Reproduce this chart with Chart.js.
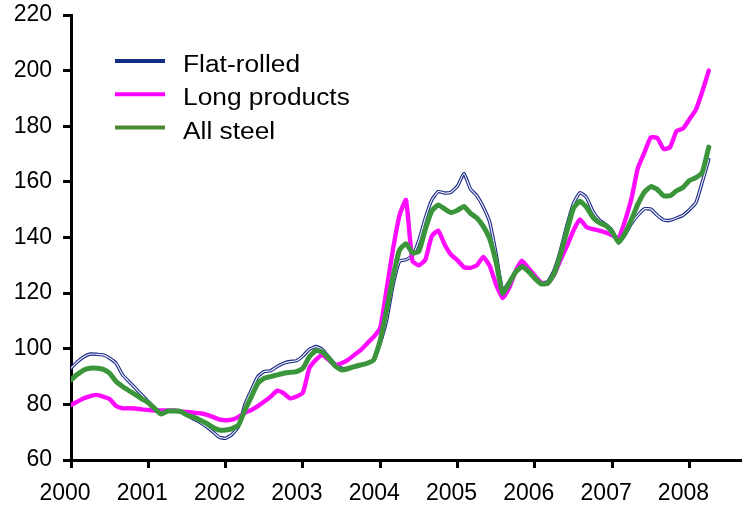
<!DOCTYPE html>
<html>
<head>
<meta charset="utf-8">
<script src="https://cdn.jsdelivr.net/npm/chart.js@4.4.1/dist/chart.umd.min.js"></script>
<style>
  html, body { margin: 0; padding: 0; background: #fff; }
  canvas { display: block; }
</style>
</head>
<body>
<canvas id="steelCanvas" width="742" height="508"></canvas>
<script>
/* ── Steel price indices, monthly Jan 2000 – Apr 2008 ── */

const yearTicks = [2000, 2001, 2002, 2003, 2004, 2005, 2006, 2007, 2008];
const valueTicks = [60, 80, 100, 120, 140, 160, 180, 200, 220];

const flatRolled = [
    93.0, 95.3, 97.1, 98.1, 98.0, 97.8, 96.6, 94.8, 90.6, 88.2, 85.8, 83.4,
    81.0, 78.6, 76.8, 77.6, 77.6, 77.4, 76.2, 74.7, 73.6, 72.0, 70.2, 68.2,
    67.8, 69.2, 72.0, 80.0, 85.2, 90.0, 91.8, 92.1, 93.6, 94.8, 95.4, 95.7,
    97.4, 99.8, 100.8, 99.8, 97.1, 94.5, 93.0, 93.0, 93.6, 94.2, 94.8, 96.0,
    102.0, 110.3, 123.0, 131.5, 132.0, 133.5, 139.0, 147.0, 153.5, 156.5, 156.0, 156.3,
    158.5, 163.0, 157.5, 155.0, 151.0, 145.5, 134.0, 121.0, 124.0, 127.7, 129.9, 128.3,
    125.6, 123.8, 124.1, 128.3, 135.5, 144.5, 152.3, 156.1, 154.5, 149.5, 146.3, 144.7,
    142.5, 138.0, 141.0, 145.0, 148.0, 150.3, 150.2, 148.0, 146.3, 146.2, 147.0, 148.0,
    150.0, 152.5, 160.0, 168.0,
];

const longProducts = [
    79.8, 81.0, 82.2, 83.0, 83.4, 82.8, 81.9, 79.4, 78.6, 78.6, 78.5, 78.2,
    78.0, 77.8, 77.8, 77.8, 77.8, 77.5, 77.3, 77.0, 76.8, 76.3, 75.5, 74.6,
    74.3, 74.5, 75.5, 77.0, 78.0, 79.4, 81.0, 82.8, 84.9, 84.0, 82.2, 82.8,
    84.2, 93.0, 96.0, 97.8, 96.0, 94.2, 94.8, 96.0, 97.8, 99.6, 102.0, 104.3,
    107.5, 121.5, 136.0, 148.0, 153.5, 131.5, 130.0, 132.0, 140.5, 142.5, 137.5, 133.8,
    131.8, 129.3, 129.1, 130.0, 133.0, 129.8, 123.0, 118.2, 121.8, 127.8, 131.7, 129.0,
    126.3, 123.8, 123.5, 126.7, 132.0, 137.0, 142.5, 146.5, 143.8, 143.0, 142.5, 141.8,
    140.8, 139.8, 146.0, 154.0, 165.0, 170.5, 176.0, 175.8, 171.8, 172.5, 178.3, 179.2,
    182.5, 186.0, 192.5, 200.0,
];

const allSteel = [
    88.8, 90.8, 92.4, 93.0, 93.0, 92.6, 91.2, 88.2, 86.4, 84.9, 83.5, 82.0,
    80.6, 78.5, 76.5, 77.6, 77.6, 77.5, 76.2, 75.4, 74.4, 73.2, 71.8, 70.8,
    70.8, 71.3, 72.6, 78.0, 82.8, 87.6, 89.4, 90.0, 90.6, 91.2, 91.5, 91.8,
    93.0, 97.1, 99.3, 98.9, 96.6, 93.8, 92.4, 92.8, 93.6, 94.2, 94.8, 96.0,
    103.0, 114.0, 126.0, 135.5, 137.8, 134.5, 135.0, 143.0, 149.5, 151.7, 150.3, 149.0,
    149.8, 151.2, 148.7, 147.0, 144.0, 139.5, 131.0, 120.0, 123.5, 127.5, 129.5, 127.8,
    125.3, 123.3, 123.5, 127.0, 134.0, 142.5, 150.5, 153.0, 151.0, 147.3, 145.3, 144.3,
    142.0, 138.3, 141.5, 146.5, 152.0, 156.3, 158.3, 157.3, 155.0, 155.0, 156.8, 158.0,
    160.5, 161.5, 163.5, 172.5,
];

const FONT = 'Arial, "Liberation Sans", sans-serif';

// month i -> decimal year
const toPoints = arr => arr.map((v, i) => ({ x: 2000 + i / 12, y: v }));

/* legend drawn inside the plot, top-left (text a bit wide, like the original) */
const insideLegend = {
    id: 'insideLegend',
    afterDraw(chart) {
        const ctx = chart.ctx;
        const items = chart.data.datasets.filter(d => d.inLegend);
        ctx.save();
        ctx.font = '23.5px ' + FONT;
        ctx.textBaseline = 'alphabetic';
        ctx.fillStyle = '#000';
        items.forEach((d, i) => {
            const y = 61 + i * 33.3;
            ctx.strokeStyle = d.legendColor;
            ctx.lineWidth = 4;
            ctx.beginPath();
            ctx.moveTo(115, y);
            ctx.lineTo(165, y);
            ctx.stroke();
            ctx.save();
            ctx.translate(183, y + 11);
            ctx.scale(1.12, 1);
            ctx.fillText(d.label, 0, 0);
            ctx.restore();
        });
        ctx.restore();
    },
};

const lineDefaults = {
    fill: false,
    pointRadius: 0,
    tension: 0.15,
    borderCapStyle: 'round',
    borderJoinStyle: 'round',
};

new Chart(document.getElementById('steelCanvas').getContext('2d'), {
    type: 'line',
    data: {
        datasets: [
            { ...lineDefaults, label: 'Flat-rolled', inLegend: true, legendColor: '#0f2d84',
              data: toPoints(flatRolled), borderColor: '#1c2a86', borderWidth: 3.4, order: 3 },
            { ...lineDefaults, label: 'Flat-rolled core',
              data: toPoints(flatRolled), borderColor: '#eef0fa', borderWidth: 1.2, order: 2 },
            { ...lineDefaults, label: 'Long products', inLegend: true, legendColor: '#ff00ff',
              data: toPoints(longProducts), borderColor: '#ff0cff', borderWidth: 4.4, order: 1 },
            { ...lineDefaults, label: 'All steel', inLegend: true, legendColor: '#4a8a2e',
              data: toPoints(allSteel), borderColor: '#3b963b', borderWidth: 5, order: 0 },
        ],
    },
    options: {
        responsive: false,
        animation: false,
        layout: { padding: { top: 15, right: 0, bottom: 0, left: 0 } },
        scales: {
            x: {
                type: 'linear',
                min: 2000,
                max: 2008.68,
                afterBuildTicks: s => { s.ticks = yearTicks.map(v => ({ value: v })); },
                afterFit: s => { s.height = 48; s.paddingLeft = 0; s.paddingRight = 0; },
                grid: { drawOnChartArea: false, drawTicks: true, tickLength: 8, tickWidth: 3, tickColor: '#000' },
                border: { display: true, color: '#000', width: 3 },
                ticks: {
                    color: '#000', font: { family: FONT, size: 23 },
                    padding: 12, labelOffset: -6, maxRotation: 0, autoSkip: false,
                    callback: v => String(v),
                },
            },
            y: {
                min: 60,
                max: 220,
                afterBuildTicks: s => { s.ticks = valueTicks.map(v => ({ value: v })); },
                afterFit: s => { s.width = 71; s.paddingTop = 0; s.paddingBottom = 0; },
                grid: { drawOnChartArea: false, drawTicks: true, tickLength: 8, tickWidth: 3, tickColor: '#000' },
                border: { display: true, color: '#000', width: 3 },
                ticks: {
                    color: '#000', font: { family: FONT, size: 23 },
                    padding: 11, callback: v => String(v),
                },
            },
        },
        plugins: {
            legend:  { display: false },
            tooltip: { enabled: false },
        },
    },
    plugins: [insideLegend],
});
</script>
</body>
</html>
